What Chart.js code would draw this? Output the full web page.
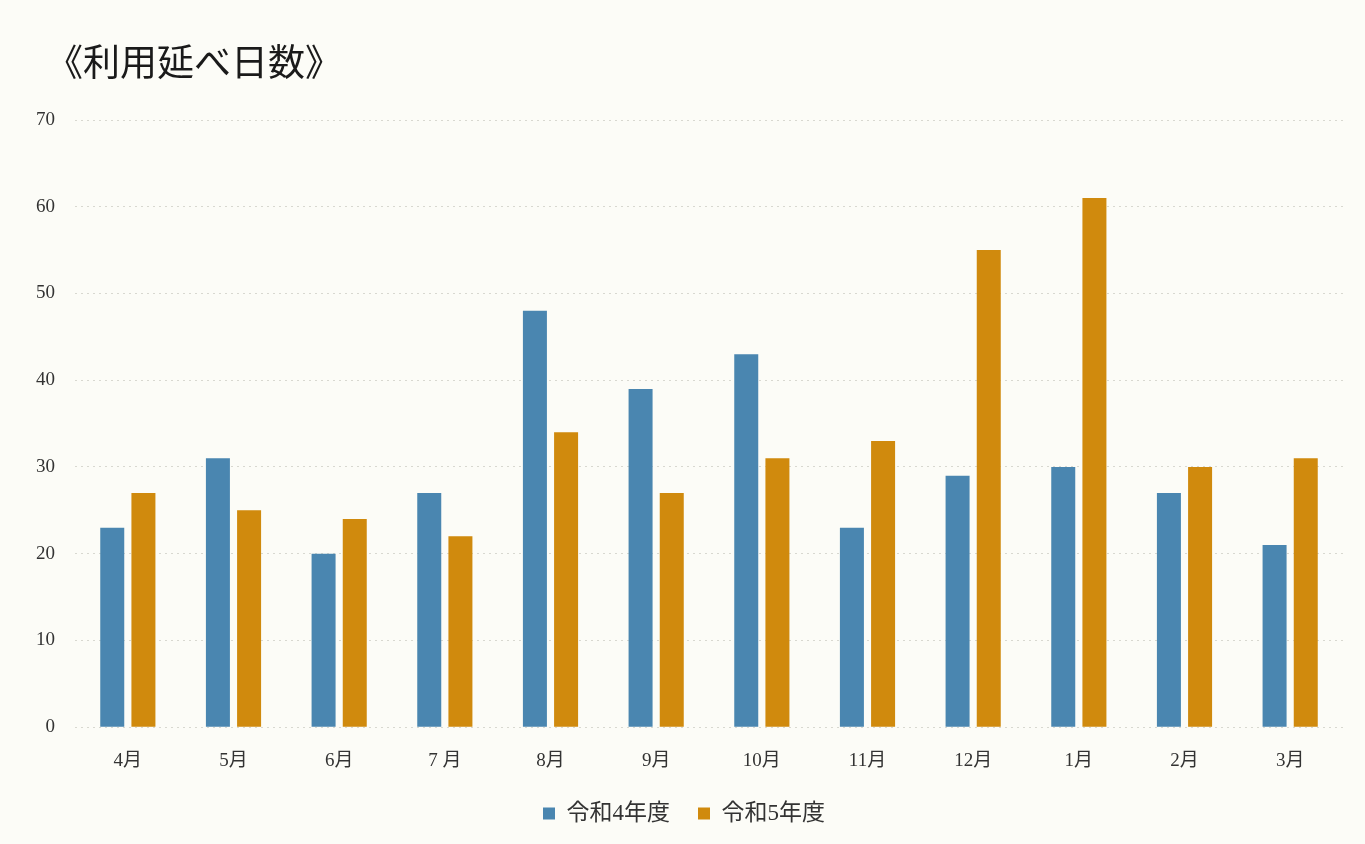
<!DOCTYPE html>
<html>
<head>
<meta charset="utf-8">
<script src="https://cdn.jsdelivr.net/npm/chart.js@4/dist/chart.umd.min.js"></script>
<style>
html,body{margin:0;padding:0;background:#fcfcf7;}
#wrap{width:1365px;height:844px;position:relative;}
</style>
</head>
<body>
<div id="wrap"><canvas id="c" width="1365" height="844"></canvas></div>
<script>
const titleText = "《利用延べ日数》";
const categories = ["4月","5月","6月","7 月","8月","9月","10月","11月","12月","1月","2月","3月"];
const seriesNames = ["令和4年度","令和5年度"];
const r4 = [23,31,20,27,48,39,43,23,29,30,27,21];
const r5 = [27,25,24,22,34,27,31,33,55,61,30,31];
const yTicks = [0,10,20,30,40,50,60,70];

const serif = '"Liberation Serif","Noto Sans CJK JP",serif';
const titlePlugin = {
  id:'customTitle',
  beforeDraw(chart){
    const ctx = chart.ctx;
    ctx.save();
    ctx.fillStyle = '#fcfcf7';
    ctx.fillRect(0,0,chart.width,chart.height);
    ctx.restore();
  },
  afterDraw(chart){
    const ctx = chart.ctx;
    ctx.save();
    ctx.font = '37px "Noto Sans CJK JP", sans-serif';
    ctx.fillStyle = '#1a1a1a';
    ctx.textBaseline = 'middle';
    ctx.textAlign = 'left';
    ctx.fillText(titleText, 46, 62);
    ctx.restore();
  }
};

new Chart(document.getElementById('c'), {
  type:'bar',
  data:{
    labels:categories,
    datasets:[
      {label:seriesNames[0], data:r4, backgroundColor:'#4a86b0', barPercentage:0.77, categoryPercentage:0.59},
      {label:seriesNames[1], data:r5, backgroundColor:'#d08a0d', barPercentage:0.77, categoryPercentage:0.59}
    ]
  },
  options:{
    responsive:false,
    animation:false,
    layout:{padding:{top:120,left:25,right:22,bottom:9}},
    plugins:{
      legend:{
        position:'bottom',
        labels:{boxWidth:12,boxHeight:12,color:'#333',font:{size:23,family:serif},padding:28}
      },
      tooltip:{enabled:false}
    },
    scales:{
      x:{
        afterFit(s){s.height -= 12;},
        grid:{display:false},
        border:{display:false},
        ticks:{color:'#333',font:{size:19,family:serif},padding:14}
      },
      y:{
        min:0,max:70,
        afterFit(s){s.width=50;},
        afterBuildTicks(s){s.ticks = yTicks.map(v=>({value:v}));},
        grid:{color:'#d8d8d0',lineWidth:1,drawTicks:false},
        border:{display:false,dash:[2,4]},
        ticks:{color:'#333',font:{size:19,family:serif},padding:20}
      }
    }
  },
  plugins:[titlePlugin]
});
</script>
</body>
</html>
